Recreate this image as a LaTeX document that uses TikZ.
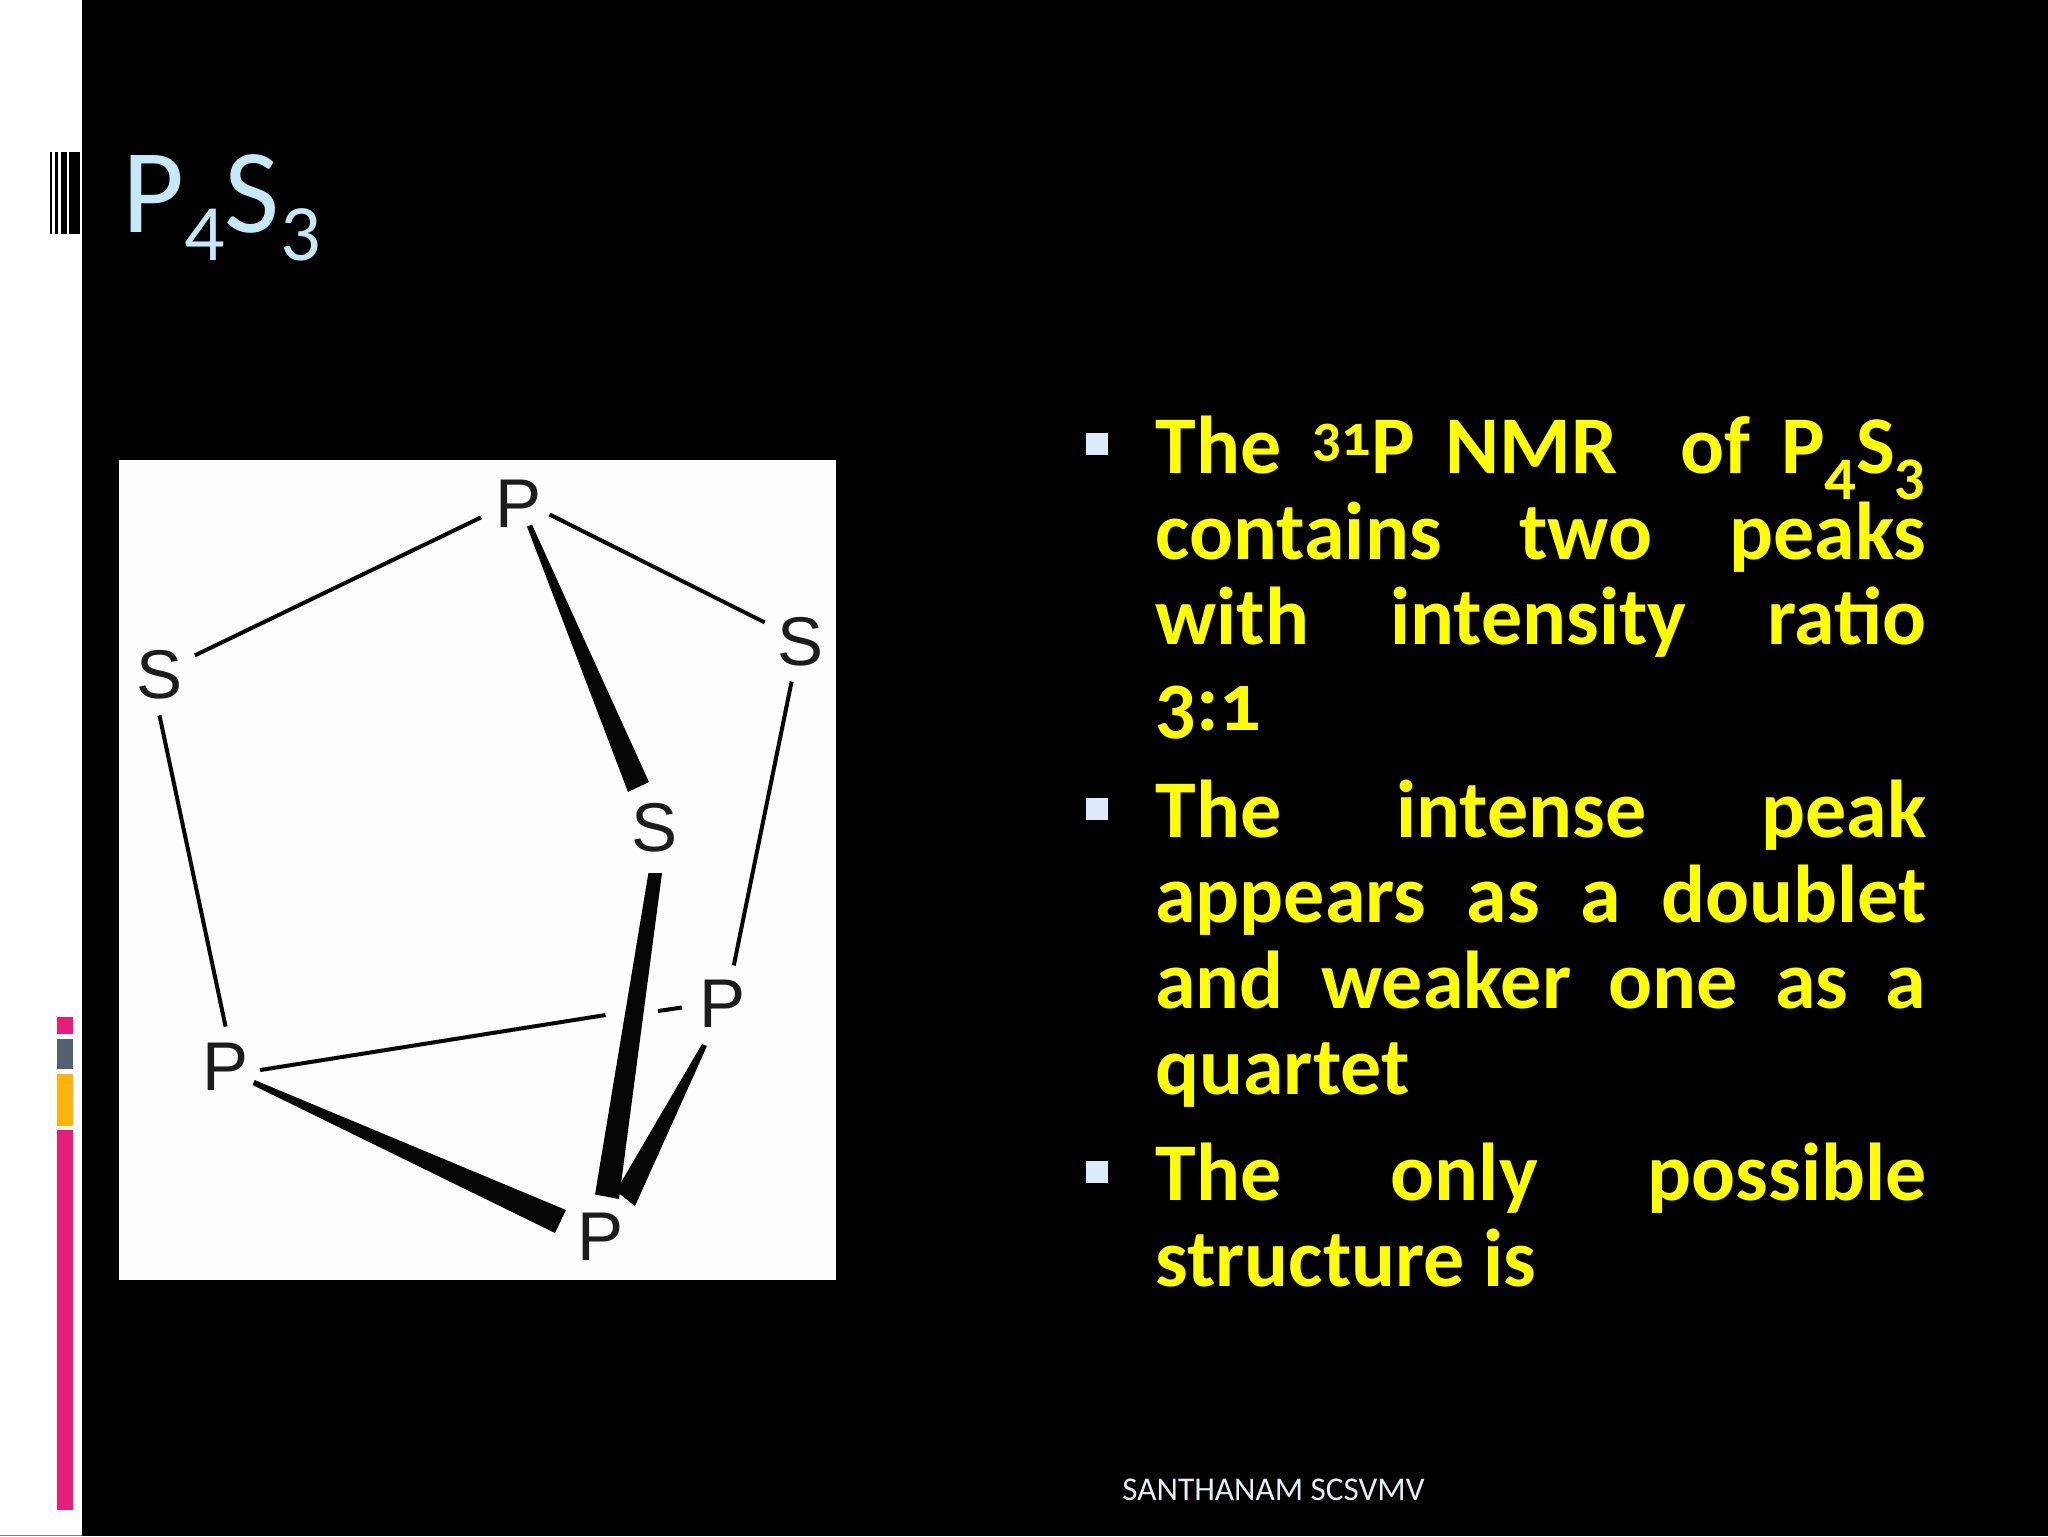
\documentclass[tikz,border=0pt]{standalone}
\usepackage{fontspec}
\setmainfont{Carlito}[Numbers=OldStyle]
\newfontfamily\titlefont{Carlito}[Numbers=Lining]
\newfontfamily\atomfont{Liberation Sans}
\usetikzlibrary{calc}
\definecolor{titleblue}{HTML}{C5E9F9}
\definecolor{bulletblue}{HTML}{DCEAFB}
\definecolor{barpink}{HTML}{E91B7B}
\definecolor{barslate}{HTML}{556070}
\definecolor{baramber}{HTML}{FDB50B}
\definecolor{bodyyellow}{HTML}{FFFF00}
\definecolor{bondink}{HTML}{050505}
\definecolor{atomink}{HTML}{1C1C1C}
\definecolor{footgrey}{HTML}{E8EEF8}
\definecolor{panelwhite}{HTML}{FEFDFE}
\tikzset{
  x=0.5pt,y=-0.5pt,
  atom/.style={circle,minimum size=40pt,inner sep=0pt,font=\atomfont\fontsize{34.5}{36}\selectfont,text=atomink},
  bond/.style={draw=bondink,line width=2pt},
  wedgebond/.style={fill=bondink},
  bodyline/.style={anchor=base west,inner sep=0pt,text=bodyyellow,font=\bfseries\fontsize{41}{44}\selectfont},
  bulletbox/.style={fill=bulletblue},
}
\newcommand{\bodytext}[1]{\makebox[385.5pt][s]{#1}}
\newcommand{\subdigit}[1]{\raisebox{-10pt}{\fontsize{31}{32}\selectfont #1}}
\newcommand{\titlesub}[1]{\raisebox{-14pt}{\fontsize{40}{42}\selectfont #1}}
\begin{document}
\begin{tikzpicture}
\useasboundingbox (0,0) rectangle (2048,1536);
\fill[black] (0,0) rectangle (2048,1536);
\fill[white] (0,0) rectangle (82,1536);
\fill[gray] (0,1534.5) rectangle (82,1536);
% barcode
\fill[black] (49.5,152) rectangle (51.7,234);
\fill[black] (55.3,152) rectangle (58.3,234);
\fill[black] (60.7,152) rectangle (66.7,234);
\fill[black] (69.3,152) rectangle (80,234);
% colour bars
\fill[barpink] (57,1016.5) rectangle (73.3,1034);
\fill[barslate] (57,1038.5) rectangle (73.3,1069);
\fill[baramber] (57,1074) rectangle (73.3,1126);
\fill[barpink] (57,1130) rectangle (73.3,1509.5);
% title
\node[anchor=base west,inner sep=0pt,text=titleblue,font=\titlefont\fontsize{60}{64}\selectfont] (title) at (122,232)
  {P\titlesub{4}S\titlesub{3}};
% picture panel
\fill[panelwhite] (118.5,460) rectangle (835.5,1280);
\node[atom] (ptop) at (519,503.6) {P};
\node[atom] (sleft) at (159.5,675) {S};
\node[atom] (sright) at (800,642) {S};
\node[atom] (smid) at (655,827.6) {S};
\node[atom] (pright) at (722,1004) {P};
\node[atom] (pleft) at (225.6,1067) {P};
\node[atom] (pbot) at (601,1237) {P};
\coordinate (gapa) at (605.5,1015);
\coordinate (gapb) at (658,1011);
\draw[bond] (ptop.200) -- (sleft.29);
\draw[bond,shorten <=-4pt] (ptop.339) -- (sright.151);
\draw[bond] (sleft.south) -- (pleft.north);
\draw[bond] (sright.258) -- (pright.73);
\draw[bond,shorten <=-3pt] (pleft.357) -- (gapa);
\draw[bond] (gapb) -- (pright.185);
\fill[wedgebond] ($(ptop)+(8,23)$) -- ($(ptop)+(13,21)$) -- ($(smid)+(-6,-45.6)$) -- ($(smid)+(-27,-35.6)$) -- cycle;
\fill[wedgebond] ($(smid)+(-6.6,45.4)$) -- ($(smid)+(7,45.4)$) -- ($(pbot)+(18,-38)$) -- ($(pbot)+(-6,-42.5)$) -- cycle;
\fill[wedgebond] ($(pright)+(-20,40)$) -- ($(pright)+(-15,42)$) -- ($(pbot)+(34,-31)$) -- ($(pbot)+(15,-46)$) -- cycle;
\fill[wedgebond] ($(pleft)+(29,13)$) -- ($(pleft)+(27,18)$) -- ($(pbot)+(-46,-4)$) -- ($(pbot)+(-35,-27)$) -- cycle;
% bullets
\fill[bulletbox] (1086,433) rectangle (1108,455);
\fill[bulletbox] (1086,798) rectangle (1108,820);
\fill[bulletbox] (1086,1161) rectangle (1108,1183);
% body
\node[bodyline] (l1) at (1155,473) {\bodytext{The \raisebox{9pt}{\fontsize{29}{30}\selectfont 31}P NMR \ of P\subdigit{4}S\subdigit{3}}};
\node[bodyline] (l2) at (1155,559) {\bodytext{contains two peaks}};
\node[bodyline] (l3) at (1155,644) {\bodytext{with intensity ratio}};
\node[bodyline] (l4) at (1155,730) {3:1};
\node[bodyline] (l5) at (1155,837) {\bodytext{The intense peak}};
\node[bodyline] (l6) at (1155,922) {\bodytext{appears as a doublet}};
\node[bodyline] (l7) at (1155,1008) {\bodytext{and weaker one as a}};
\node[bodyline] (l8) at (1155,1094) {quartet};
\node[bodyline] (l9) at (1155,1200) {\bodytext{The only possible}};
\node[bodyline] (l10) at (1155,1286) {structure is};
% footer
\node[anchor=base west,inner sep=0pt,text=footgrey,font=\fontsize{16.6}{18}\selectfont] (foot) at (1122,1500) {SANTHANAM SCSVMV};
\end{tikzpicture}
\end{document}
